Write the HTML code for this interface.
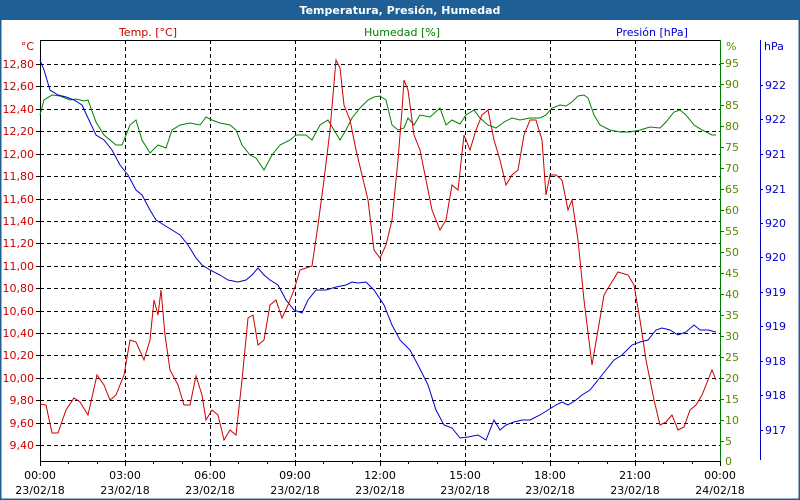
<!DOCTYPE html>
<html><head><meta charset="utf-8"><style>
html,body{margin:0;padding:0;background:#fff;}
svg{display:block;font-family:"DejaVu Sans","Liberation Sans",sans-serif;}
</style></head><body>
<svg width="800" height="500" viewBox="0 0 800 500" xmlns="http://www.w3.org/2000/svg">
<rect x="0" y="0" width="800" height="500" fill="#fff"/>
<rect x="0.5" y="0.5" width="799" height="499" fill="none" stroke="#1e5f96" stroke-width="2"/>
<rect x="0" y="0" width="800" height="20" fill="#1e5f96"/>
<text x="400" y="14" font-size="11" font-weight="bold" fill="#fff" text-anchor="middle">Temperatura, Presión, Humedad</text>
<text x="148" y="36" font-size="11" fill="#cc0000" text-anchor="middle">Temp. [°C]</text>
<text x="402" y="36" font-size="11" fill="#008000" text-anchor="middle">Humedad [%]</text>
<text x="652" y="36" font-size="11" fill="#0000cc" text-anchor="middle">Presión [hPa]</text>
<g stroke="#000" stroke-width="1" stroke-dasharray="4,3" fill="none">
<path d="M40 64.5H720M40 86.5H720M40 109.5H720M40 131.5H720M40 154.5H720M40 176.5H720M40 199.5H720M40 221.5H720M40 243.5H720M40 266.5H720M40 288.5H720M40 311.5H720M40 333.5H720M40 355.5H720M40 378.5H720M40 400.5H720M40 423.5H720M40 445.5H720"/>
<path d="M125.5 40V461M210.5 40V461M295.5 40V461M380.5 40V461M465.5 40V461M550.5 40V461M635.5 40V461"/>
</g>
<path d="M40 40.5H720" stroke="#000"/>
<path d="M40.5 40V461M40 461.5H720" stroke="#000"/>
<path d="M720.5 40V462" stroke="#008000"/>
<path d="M760.5 40V460" stroke="#0000cc"/>
<g stroke="#000">
<path d="M36 64.5H40M36 86.5H40M36 109.5H40M36 131.5H40M36 154.5H40M36 176.5H40M36 199.5H40M36 221.5H40M36 243.5H40M36 266.5H40M36 288.5H40M36 311.5H40M36 333.5H40M36 355.5H40M36 378.5H40M36 400.5H40M36 423.5H40M36 445.5H40"/>
<path d="M40.5 461V466M68.5 461V464M97.5 461V464M125.5 461V466M153.5 461V464M182.5 461V464M210.5 461V466M238.5 461V464M267.5 461V464M295.5 461V466M323.5 461V464M352.5 461V464M380.5 461V466M408.5 461V464M437.5 461V464M465.5 461V466M493.5 461V464M522.5 461V464M550.5 461V466M578.5 461V464M607.5 461V464M635.5 461V466M663.5 461V464M692.5 461V464M720.5 461V466"/>
</g>
<g fill="#cc0000" font-size="11" text-anchor="end">
<text x="34" y="50">°C</text>
<text x="34" y="68">12,80</text><text x="34" y="90">12,60</text><text x="34" y="113">12,40</text><text x="34" y="135">12,20</text><text x="34" y="158">12,00</text><text x="34" y="180">11,80</text><text x="34" y="203">11,60</text><text x="34" y="225">11,40</text><text x="34" y="247">11,20</text><text x="34" y="270">11,00</text><text x="34" y="292">10,80</text><text x="34" y="315">10,60</text><text x="34" y="337">10,40</text><text x="34" y="359">10,20</text><text x="34" y="382">10,00</text><text x="34" y="404">9,80</text><text x="34" y="427">9,60</text><text x="34" y="449">9,40</text>
</g>
<g stroke="#008000"><path d="M720 63.5h4M720 84.5h4M720 105.5h4M720 126.5h4M720 147.5h4M720 168.5h4M720 189.5h4M720 210.5h4M720 231.5h4M720 252.5h4M720 273.5h4M720 294.5h4M720 315.5h4M720 336.5h4M720 357.5h4M720 378.5h4M720 399.5h4M720 420.5h4M720 441.5h4"/></g>
<g fill="#5a8a00" font-size="11">
<text x="726" y="50">%</text>
<text x="725" y="67">95</text><text x="725" y="88">90</text><text x="725" y="109">85</text><text x="725" y="130">80</text><text x="725" y="151">75</text><text x="725" y="172">70</text><text x="725" y="193">65</text><text x="725" y="214">60</text><text x="725" y="235">55</text><text x="725" y="256">50</text><text x="725" y="277">45</text><text x="725" y="298">40</text><text x="725" y="319">35</text><text x="725" y="340">30</text><text x="725" y="361">25</text><text x="725" y="382">20</text><text x="725" y="403">15</text><text x="725" y="424">10</text><text x="725" y="445">5</text><text x="725" y="465">0</text>
</g>
<g stroke="#0000cc"><path d="M760 85.5h3M760 119.5h3M760 154.5h3M760 189.5h3M760 223.5h3M760 257.5h3M760 292.5h3M760 326.5h3M760 361.5h3M760 395.5h3M760 430.5h3"/></g>
<g fill="#0000cc" font-size="11">
<text x="764" y="50">hPa</text>
<text x="765" y="89">922</text><text x="765" y="123">922</text><text x="765" y="158">921</text><text x="765" y="193">921</text><text x="765" y="227">920</text><text x="765" y="261">920</text><text x="765" y="296">919</text><text x="765" y="330">919</text><text x="765" y="365">918</text><text x="765" y="399">918</text><text x="765" y="434">917</text>
</g>
<g fill="#000" font-size="11" text-anchor="middle">
<text x="40" y="479">00:00</text><text x="40" y="494">23/02/18</text>
<text x="125" y="479">03:00</text><text x="125" y="494">23/02/18</text>
<text x="210" y="479">06:00</text><text x="210" y="494">23/02/18</text>
<text x="295" y="479">09:00</text><text x="295" y="494">23/02/18</text>
<text x="380" y="479">12:00</text><text x="380" y="494">23/02/18</text>
<text x="465" y="479">15:00</text><text x="465" y="494">23/02/18</text>
<text x="550" y="479">18:00</text><text x="550" y="494">23/02/18</text>
<text x="635" y="479">21:00</text><text x="635" y="494">23/02/18</text>
<text x="720" y="479">00:00</text><text x="720" y="494">24/02/18</text>
</g>
<polyline fill="none" stroke="#008000" stroke-width="1" points="40,115 44,100 52,95 60,96 70,100 76,99 84,101 88,100 96,122 104,135 110,140 116,145 122,145 130,125 136,120 142,140 150,153 158,145 166,148 172,130 180,125 190,123 200,125 206,117 212,120 220,123 230,125 236,130 242,145 250,155 256,158 264,170 272,155 280,145 290,140 296,135 306,135 312,140 320,125 328,120 334,130 340,140 346,130 352,118 360,108 368,100 374,97 380,96 386,100 392,125 398,130 404,128 408,118 414,125 420,115 430,117 440,108 446,125 452,120 460,124 466,115 474,110 480,118 488,125 496,128 504,122 512,118 520,120 530,118 540,118 546,115 552,108 560,105 566,106 572,102 578,96 584,95 588,98 594,115 600,125 610,130 620,132 630,132 640,130 650,127 660,128 666,122 674,112 680,110 686,115 694,125 702,130 712,135 716,135"/>
<polyline fill="none" stroke="#0000cc" stroke-width="1" points="40,60 44,70 50,90 58,95 66,97 74,100 82,105 88,118 96,135 104,140 112,150 120,165 128,175 136,190 142,195 150,210 156,220 164,225 172,230 180,235 188,245 196,258 202,265 210,270 220,275 228,280 238,282 246,280 252,275 258,268 264,275 270,280 278,285 286,300 294,310 302,313 308,300 316,290 326,290 336,287 346,285 352,282 358,283 366,282 374,290 384,305 392,325 400,340 410,350 418,365 428,385 436,410 444,425 452,428 460,438 468,437 478,435 486,440 494,420 500,430 506,425 514,422 522,420 530,420 540,415 548,410 556,405 562,402 568,405 576,400 582,395 590,390 598,380 606,370 614,360 622,355 632,345 640,342 648,340 656,330 662,328 670,330 678,335 686,332 694,325 700,330 708,330 716,332"/>
<polyline fill="none" stroke="#cc0000" stroke-width="1" points="40,404 46,405 52,433 58,433 66,410 74,398 80,402 88,415 97,375 104,385 110,400 116,395 124,375 130,340 136,342 144,360 150,340 154,300 158,315 161,290 165,335 170,370 178,385 184,405 190,405 196,376 202,395 206,420 212,410 218,415 224,440 230,430 236,435 242,380 248,318 253,315 258,345 264,340 270,305 276,300 282,318 288,305 294,290 300,270 306,268 312,266 318,225 324,180 330,130 336,60 340,68 344,105 350,120 356,150 362,175 368,200 374,250 380,258 386,245 392,220 398,160 402,110 404,80 408,90 414,135 420,150 426,180 432,210 440,230 446,220 452,185 458,190 464,135 470,150 476,130 482,115 488,110 494,140 500,160 506,185 512,175 518,170 524,135 530,120 536,120 542,140 546,195 550,175 556,175 562,180 568,210 572,200 578,240 584,300 592,365 598,330 604,295 610,285 618,272 628,275 634,285 640,320 646,360 654,400 660,425 666,422 672,415 678,430 684,427 690,410 696,405 702,395 708,380 712,370 716,380"/>
</svg>
</body></html>
